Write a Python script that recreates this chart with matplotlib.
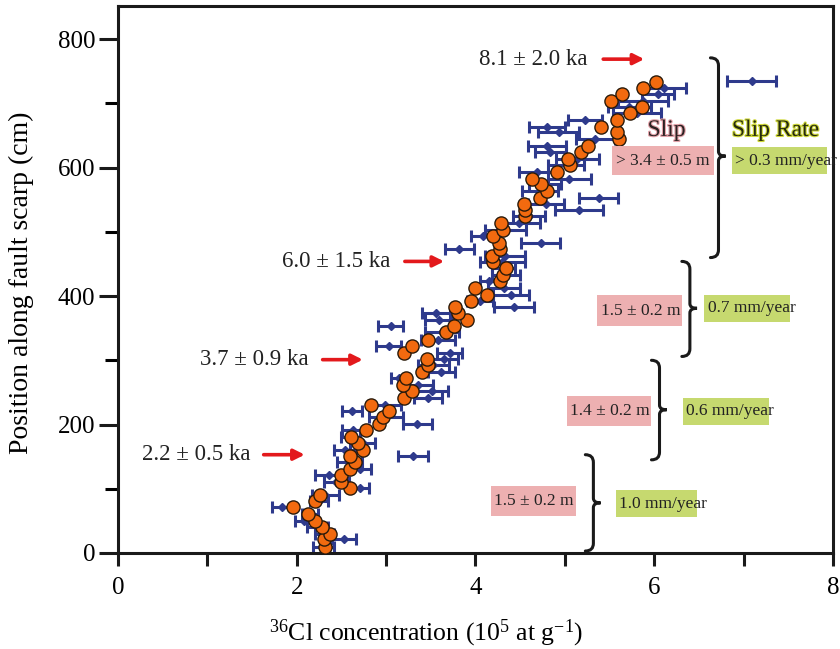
import matplotlib
matplotlib.use('Agg')
import matplotlib.pyplot as plt
import matplotlib.patheffects as pe
from matplotlib.path import Path
from matplotlib.patches import PathPatch, Rectangle

plt.rcParams['font.family'] = ['Liberation Serif', 'DejaVu Serif']
plt.rcParams['mathtext.fontset'] = 'custom'
plt.rcParams['mathtext.rm'] = 'Liberation Serif'
plt.rcParams['mathtext.default'] = 'regular'

# depth of each sample along the scarp (cm)
depth = [10, 21, 30, 40, 50, 60, 71, 81, 91, 101, 111, 121, 131, 141, 151, 161,
         171, 181, 191, 201, 211, 221, 231, 241, 252, 262, 272, 282, 292, 302,
         312, 322, 332, 344, 353, 362, 373, 383, 393, 402, 412, 423, 433, 443,
         453, 463, 473, 483, 493, 503, 514, 524, 534, 544, 553, 564, 574, 583,
         594, 604, 614, 624, 634, 644, 655, 664, 674, 685, 694, 704, 715, 724, 734]

# modelled concentration (orange dots)
model_conc = [2.32, 2.30, 2.37, 2.28, 2.20, 2.13, 1.96, 2.20, 2.26, 2.60,
              2.49, 2.50, 2.60, 2.65, 2.60, 2.74, 2.69, 2.61, 2.77, 2.92,
              2.96, 3.03, 2.83, 3.20, 3.29, 3.19, 3.22, 3.40, 3.47, 3.46,
              3.20, 3.29, 3.47, 3.67, 3.76, 3.91, 3.80, 3.77, 3.95, 4.13,
              4.00, 4.28, 4.31, 4.34, 4.20, 4.18, 4.28, 4.26, 4.20, 4.31,
              4.29, 4.55, 4.56, 4.54, 4.72, 4.80, 4.73, 4.63, 4.91, 5.06,
              5.04, 5.18, 5.26, 5.61, 5.58, 5.41, 5.58, 5.73, 5.86, 5.52,
              5.64, 5.87, 6.02]

# measured concentration with 1-sigma (blue bars)
meas_conc = [2.30, 2.53, 2.31, 2.23, 2.08, 2.15, 1.84, 2.25, 2.32, 2.71,
             2.44, 2.36, 2.71, 2.59, 3.30, 2.54, 2.74, 2.60, 2.63, 3.35,
             3.00, 2.62, 2.99, 3.47, 3.51, 3.36, 3.15, 3.62, 3.53, 3.65,
             3.71, 3.03, 3.58, 3.63, 3.05, 3.59, 3.56, 4.43, 4.05, 4.40,
             4.32, 4.15, 4.34, 4.31, 4.30, 4.33, 3.82, 4.73, 4.08, 4.34,
             4.49, 4.60, 5.16, 4.79, 5.38, 4.72, 4.78, 5.05, 4.69, 5.01,
             5.14, 4.84, 4.80, 5.34, 4.93, 4.80, 5.23, 5.81, 5.72, 5.87,
             6.04, 6.11]
meas_err = [0.12, 0.13, 0.11, 0.12, 0.10, 0.09, 0.12, 0.10, 0.15, 0.10,
            0.14, 0.15, 0.12, 0.14, 0.17, 0.12, 0.14, 0.11, 0.12, 0.16,
            0.19, 0.11, 0.18, 0.16, 0.18, 0.16, 0.09, 0.15, 0.17, 0.16,
            0.14, 0.14, 0.19, 0.19, 0.14, 0.16, 0.16, 0.22, 0.15, 0.20,
            0.18, 0.10, 0.16, 0.13, 0.25, 0.22, 0.16, 0.22, 0.13, 0.23,
            0.23, 0.18, 0.27, 0.20, 0.22, 0.20, 0.18, 0.24, 0.20, 0.20,
            0.24, 0.17, 0.21, 0.22, 0.23, 0.20, 0.19, 0.27, 0.24, 0.28,
            0.18, 0.25]
meas_depth = depth[:len(meas_conc)]

# sample error bar shown top right
key_conc = [7.09]
key_depth = [735]
key_err = [0.27]

# earthquake ages: label, text anchor, arrow tail x, arrow head x
ages = ['8.1 ± 2.0 ka', '6.0 ± 1.5 ka', '3.7 ± 0.9 ka', '2.2 ± 0.5 ka']
age_y = [769, 454, 301, 153]
age_text_x = [5.25, 3.05, 2.13, 1.48]
arrow_x0 = [5.43, 3.21, 2.29, 1.63]
arrow_x1 = [5.89, 3.65, 2.74, 2.09]

# slip segments
slip_text = ['> 3.4 ± 0.5 m', '1.5 ± 0.2 m', '1.4 ± 0.2 m', '1.5 ± 0.2 m']
rate_text = ['> 0.3 mm/year', '0.7 mm/year', '0.6 mm/year', '1.0 mm/year']
brace_x = [6.72, 6.40, 6.06, 5.32]
brace_top = [771, 454, 300, 153]
brace_bot = [460, 306, 145, 3]
brace_mid = [618, 381, 223, 78]
pink_box = [(5.53, 6.67, 588, 633), (5.36, 6.31, 354, 401), (5.02, 5.97, 198, 245), (4.17, 5.12, 58, 105)]
green_box = [(6.87, 7.93, 590, 632), (6.56, 7.52, 360, 402), (6.32, 7.28, 200, 242), (5.57, 6.48, 56, 98)]

fig = plt.figure(figsize=(8.4, 6.49), dpi=100)
ax = fig.add_axes([0.1405, 0.148, 0.851, 0.842])

ax.errorbar(meas_conc, meas_depth, xerr=meas_err, fmt='D', color='#2e3a8c',
            ms=4.5, elinewidth=2.2, capsize=4, capthick=2.2, zorder=2)
ax.errorbar(key_conc, key_depth, xerr=key_err, fmt='D', color='#2e3a8c',
            ms=4.5, elinewidth=2.2, capsize=4, capthick=2.2, zorder=2, clip_on=False)
ax.scatter(model_conc, depth, s=90, color='#f26a0f', edgecolor='#2a1a0a',
           linewidth=1.0, zorder=3)

for lab, y, tx, x0, x1 in zip(ages, age_y, age_text_x, arrow_x0, arrow_x1):
    ax.text(tx, y, lab, ha='right', va='center', fontsize=16.5, color='#222222')
    ax.annotate('', xy=(x1, y), xytext=(x0, y),
                arrowprops=dict(arrowstyle='-|>', color='#e3191c', lw=2.6,
                                mutation_scale=16, shrinkA=0, shrinkB=0))


def brace(x, y0, y1, ym, w=0.09, tip=0.08, r=12):
    verts = [(x - w, y1), (x, y1), (x, y1 - r),
             (x, ym + r * 0.6), (x, ym), (x + tip, ym),
             (x, ym), (x, ym - r * 0.6),
             (x, y0 + r), (x, y0), (x - w, y0)]
    codes = [Path.MOVETO, Path.CURVE3, Path.CURVE3,
             Path.LINETO, Path.CURVE3, Path.CURVE3,
             Path.CURVE3, Path.CURVE3,
             Path.LINETO, Path.CURVE3, Path.CURVE3]
    ax.add_patch(PathPatch(Path(verts, codes), fill=False, lw=2.2,
                           edgecolor='#1a1a1a', capstyle='round', zorder=4))


for i in range(4):
    brace(brace_x[i], brace_bot[i], brace_top[i], brace_mid[i])
    x0, x1, y0, y1 = pink_box[i]
    ax.add_patch(Rectangle((x0, y0), x1 - x0, y1 - y0, facecolor='#edb0b1',
                           edgecolor='none', zorder=4))
    ax.text(x0 + 0.04, (y0 + y1) / 2, slip_text[i], ha='left', va='center',
            fontsize=12.5, color='#222222', zorder=5)
    x0, x1, y0, y1 = green_box[i]
    ax.add_patch(Rectangle((x0, y0), x1 - x0, y1 - y0, facecolor='#c6d96f',
                           edgecolor='none', zorder=4))
    ax.text(x0 + 0.04, (y0 + y1) / 2, rate_text[i], ha='left', va='center',
            fontsize=12.5, color='#222222', zorder=5)

ax.text(6.14, 658, 'Slip', ha='center', va='center', fontsize=17, color='#2a2222',
        path_effects=[pe.withStroke(linewidth=1.6, foreground='#e3a3aa')])
ax.text(6.87, 658, 'Slip Rate', ha='left', va='center', fontsize=17, color='#262a10',
        path_effects=[pe.withStroke(linewidth=1.6, foreground='#cfd83a')])

ax.set_xlim(0, 8)
ax.set_ylim(0, 851)
ax.set_xticks([0, 1, 2, 3, 4, 5, 6, 7, 8])
ax.set_xticklabels(['0', '', '2', '', '4', '', '6', '', '8'])
ax.set_yticks([0, 200, 400, 600, 800])
ax.set_yticks([100, 300, 500, 700], minor=True)
ax.tick_params(axis='both', which='major', direction='out', width=2.2,
               labelsize=18, color='#1a1a1a')
ax.tick_params(axis='x', which='major', length=9.5, pad=8)
ax.tick_params(axis='y', which='major', length=13.5, pad=3)
ax.tick_params(axis='y', which='minor', direction='out', length=9.5, width=2.2)
for s in ax.spines.values():
    s.set_linewidth(2.2)
    s.set_color('#1a1a1a')

ax.set_xlabel('$^{36}$Cl concentration (10$^{5}$ at g$^{-1}$)', fontsize=18.5)
ax.xaxis.set_label_coords(0.431, -0.118)
ax.set_ylabel('Position along fault scarp (cm)', fontsize=20)
ax.yaxis.set_label_coords(-0.118, 0.494)

plt.savefig('out.png', dpi=100)
